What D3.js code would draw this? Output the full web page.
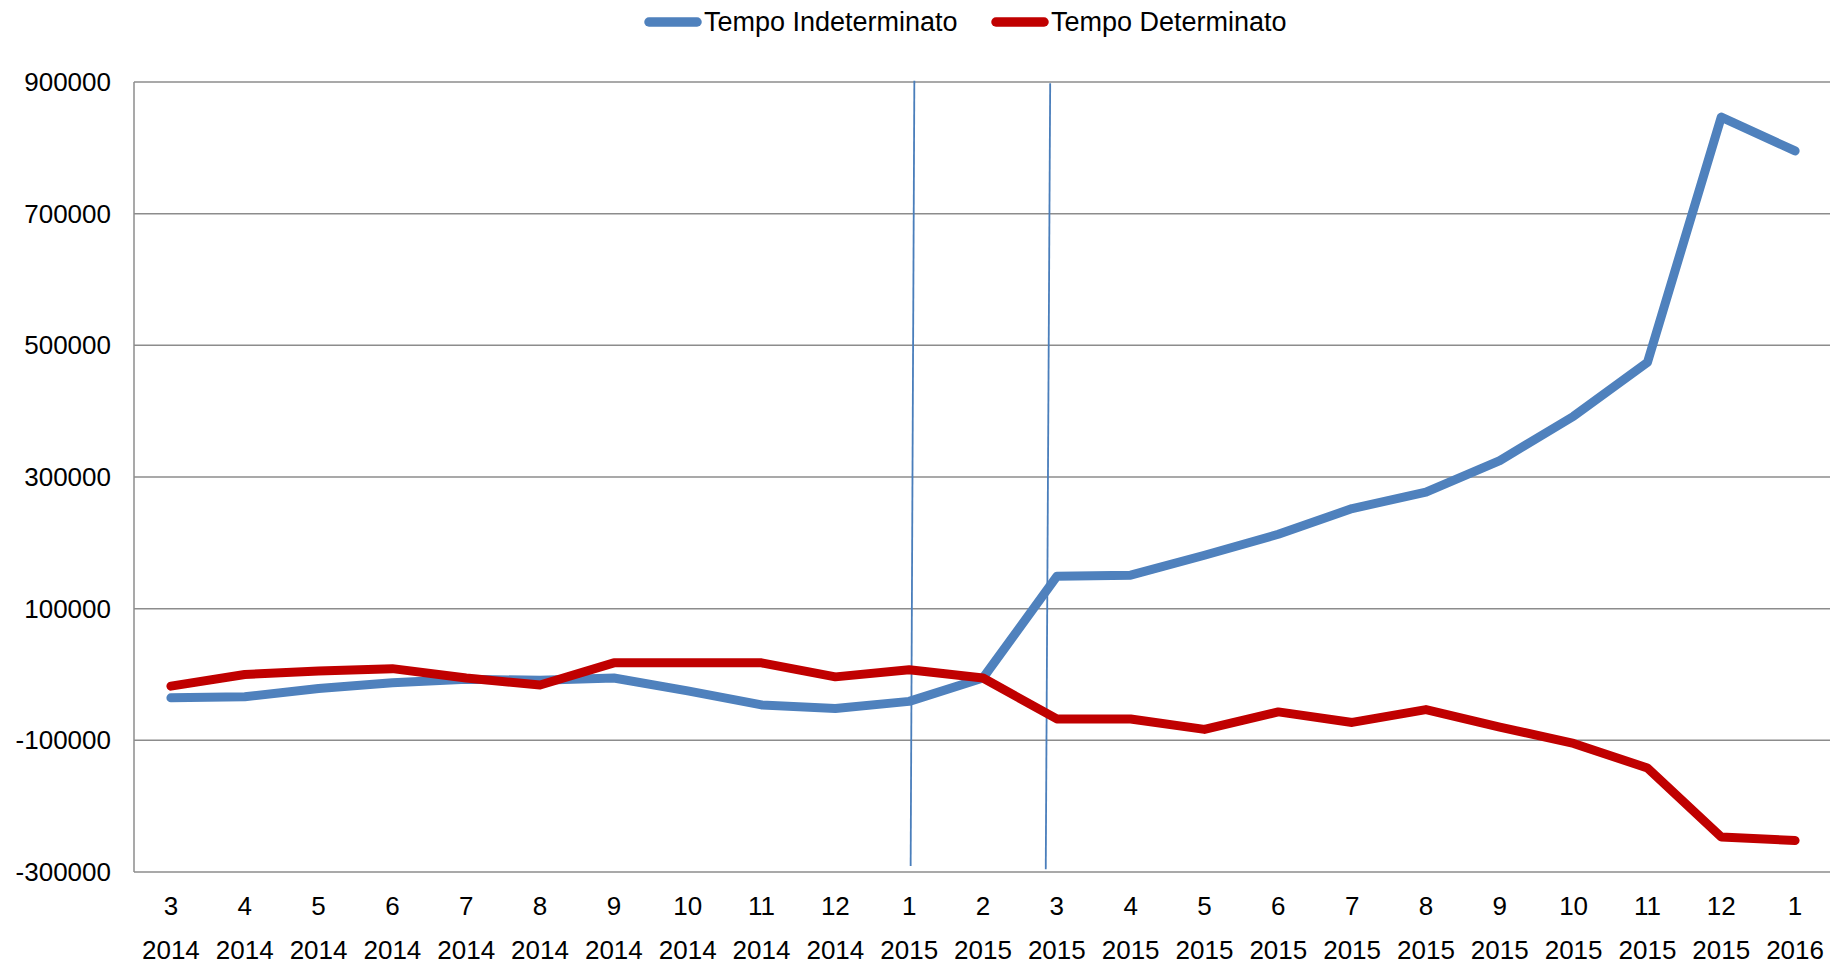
<!DOCTYPE html>
<html>
<head>
<meta charset="utf-8">
<script src="https://cdn.jsdelivr.net/npm/d3@7"></script>
<style>
  body { margin: 0; background: #fff; }
  text { font-family: "Liberation Sans", Arial, sans-serif; fill: #000; }
</style>
</head>
<body>
<div id="chart"></div>
<script>
// month / year labels for each point
var months = ["3","4","5","6","7","8","9","10","11","12","1","2","3","4","5","6","7","8","9","10","11","12","1"];
var years = ["2014","2014","2014","2014","2014","2014","2014","2014","2014","2014","2015","2015",
             "2015","2015","2015","2015","2015","2015","2015","2015","2015","2015","2016"];

// series values
var indeterminato = [-35500, -33700, -21300, -12400, -7100, -8900, -5300, -24900, -46200, -51500, -40800, -5300,
                     149100, 150900, 181100, 213000, 252100, 276900, 324900, 392300, 474000, 846700, 795300];
var determinato = [-17700, 0, 5300, 8900, -5300, -16000, 17700, 17700, 17700, -3600, 7100, -5300,
                   -67500, -67500, -83400, -56800, -72800, -53300, -79900, -104700, -142000, -246800, -252100];

var yTicks = [900000, 700000, 500000, 300000, 100000, -100000, -300000];

// hand-drawn marker lines (x as category index, y as value)
var markers = [
  [{i: 10.07, v: 902000}, {i: 10.02, v: -291000}],
  [{i: 11.91, v: 898000}, {i: 11.85, v: -296000}]
];

var width = 1830, height = 966;
var margin = {left: 134, top: 82, bottom: 872};

var svg = d3.select("#chart").append("svg")
    .attr("width", width)
    .attr("height", height);

var x = d3.scaleLinear().domain([-0.5, 22.5]).range([margin.left, 1832]);
var y = d3.scaleLinear().domain([-300000, 900000]).range([margin.bottom, margin.top]);

// gridlines
svg.append("g").selectAll("line")
    .data(yTicks)
  .enter().append("line")
    .attr("x1", margin.left)
    .attr("x2", width)
    .attr("y1", function(d) { return y(d); })
    .attr("y2", function(d) { return y(d); })
    .attr("stroke", "#8c8c8c")
    .attr("stroke-width", 1.5);

// y axis line
svg.append("line")
    .attr("x1", margin.left).attr("x2", margin.left)
    .attr("y1", y(900000)).attr("y2", y(-300000))
    .attr("stroke", "#8c8c8c")
    .attr("stroke-width", 1.5);

// y labels
svg.append("g").selectAll("text")
    .data(yTicks)
  .enter().append("text")
    .attr("x", 111)
    .attr("y", function(d) { return y(d); })
    .attr("dy", "0.35em")
    .attr("text-anchor", "end")
    .style("font-size", "26px")
    .text(function(d) { return d; });

// x labels (two rows)
var xl = svg.append("g").selectAll("g")
    .data(months)
  .enter().append("g");
xl.append("text")
    .attr("x", function(d, i) { return x(i); })
    .attr("y", 906)
    .attr("dy", "0.35em")
    .attr("text-anchor", "middle")
    .style("font-size", "26px")
    .text(function(d) { return d; });
xl.append("text")
    .attr("x", function(d, i) { return x(i); })
    .attr("y", 950)
    .attr("dy", "0.35em")
    .attr("text-anchor", "middle")
    .style("font-size", "26px")
    .text(function(d, i) { return years[i]; });

// marker lines
var markerLine = d3.line()
    .x(function(d) { return x(d.i); })
    .y(function(d) { return y(d.v); });
svg.append("g").selectAll("path")
    .data(markers)
  .enter().append("path")
    .attr("d", markerLine)
    .attr("fill", "none")
    .attr("stroke", "#4a7ebb")
    .attr("stroke-width", 1.8);

// series lines
var line = d3.line()
    .x(function(d, i) { return x(i); })
    .y(function(d) { return y(d); });

var series = [
  {name: "Tempo Indeterminato", values: indeterminato, color: "#4f81bd"},
  {name: "Tempo Determinato", values: determinato, color: "#c00000"}
];

svg.append("g").selectAll("path")
    .data(series)
  .enter().append("path")
    .attr("d", function(d) { return line(d.values); })
    .attr("fill", "none")
    .attr("stroke", function(d) { return d.color; })
    .attr("stroke-width", 9)
    .attr("stroke-linejoin", "round")
    .attr("stroke-linecap", "round");

// legend
var legendX = [645, 992];
var lg = svg.append("g").selectAll("g")
    .data(series)
  .enter().append("g")
    .attr("transform", function(d, i) { return "translate(" + legendX[i] + ",22)"; });
lg.append("line")
    .attr("x1", 4).attr("x2", 52)
    .attr("y1", 0).attr("y2", 0)
    .attr("stroke", function(d) { return d.color; })
    .attr("stroke-width", 9.5)
    .attr("stroke-linecap", "round");
lg.append("text")
    .attr("x", 59)
    .attr("dy", "0.35em")
    .style("font-size", "27px")
    .text(function(d) { return d.name; });
</script>
</body>
</html>
